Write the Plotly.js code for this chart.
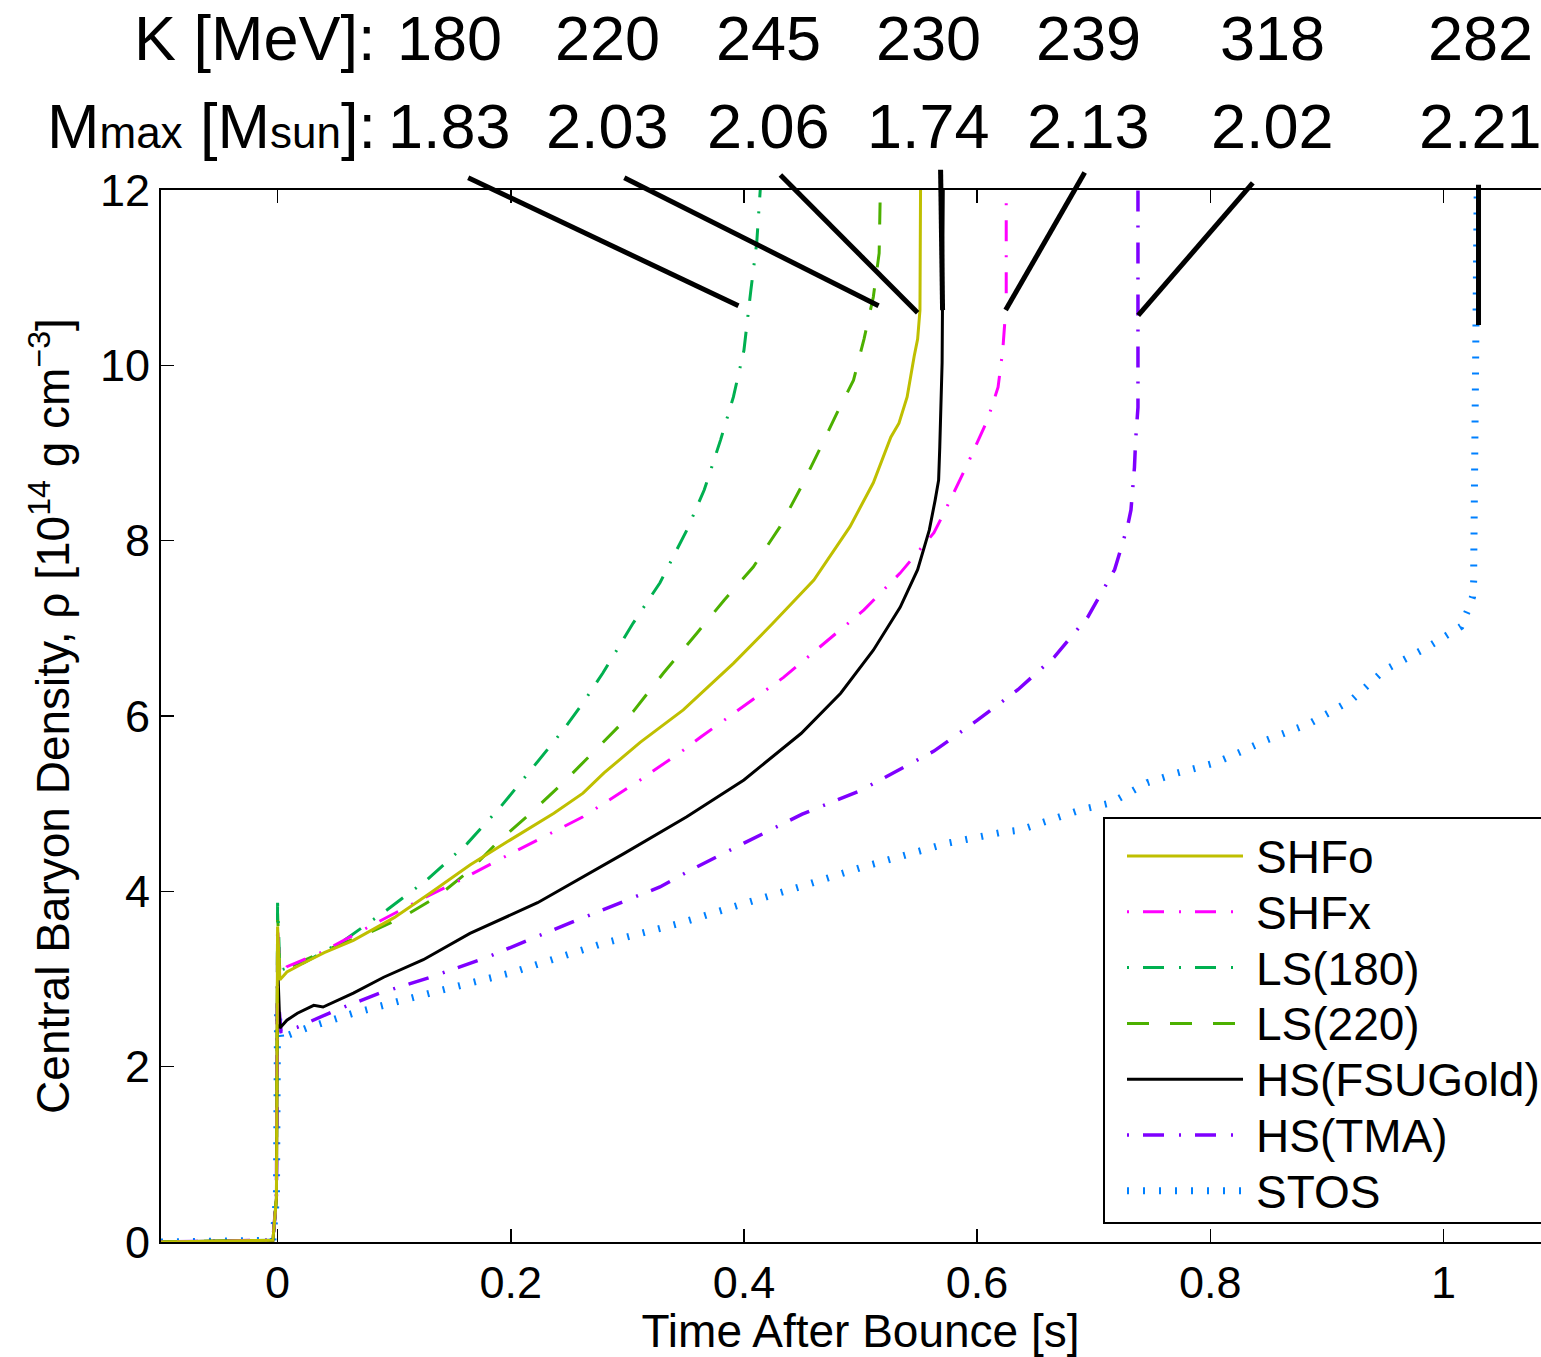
<!DOCTYPE html>
<html>
<head>
<meta charset="utf-8">
<script src="https://cdn.plot.ly/plotly-3.0.1.min.js"></script>
<style>
html, body { margin: 0; padding: 0; overflow: hidden; background: #fff; }
#chart { width: 1562px; height: 1357px; }
</style>
</head>
<body>
<div id="chart"></div>
<script>
// ---------------- data ----------------
const seriesNames = ['SHFo', 'SHFx', 'LS(180)', 'LS(220)', 'HS(FSUGold)', 'HS(TMA)', 'STOS'];

const tSHFo = [-0.1, -0.004, -0.001, 0, 0.002, 0.008, 0.022, 0.04, 0.065, 0.1, 0.131, 0.165, 0.2, 0.237, 0.262, 0.28, 0.311, 0.348, 0.391, 0.425, 0.46, 0.491, 0.511, 0.526, 0.533, 0.54, 0.546, 0.549, 0.551, 0.5515];
const rSHFo = [0, 0.02, 0.5, 3.6, 2.99, 3.08, 3.18, 3.3, 3.44, 3.7, 3.98, 4.3, 4.59, 4.89, 5.12, 5.35, 5.7, 6.07, 6.6, 7.06, 7.55, 8.16, 8.66, 9.18, 9.34, 9.64, 10.1, 10.3, 10.63, 12.0];

const tSHFx = [-0.1, -0.004, -0.001, 0, 0.002, 0.008, 0.037, 0.079, 0.122, 0.157, 0.2, 0.262, 0.311, 0.348, 0.363, 0.434, 0.503, 0.534, 0.563, 0.571, 0.592, 0.609, 0.618, 0.622, 0.625, 0.625];
const rSHFx = [0, 0.02, 0.5, 3.6, 3.05, 3.14, 3.3, 3.6, 3.9, 4.13, 4.43, 4.85, 5.27, 5.61, 5.76, 6.44, 7.21, 7.63, 8.09, 8.3, 8.88, 9.38, 9.75, 10.17, 10.71, 12.0];

const tLS180 = [-0.1, -0.004, -0.001, 0, 0.002, 0.022, 0.057, 0.094, 0.128, 0.163, 0.191, 0.217, 0.245, 0.262, 0.279, 0.305, 0.328, 0.351, 0.366, 0.38, 0.391, 0.4, 0.406, 0.411, 0.414];
const rLS180 = [0, 0.02, 0.5, 3.87, 3.1, 3.18, 3.44, 3.79, 4.13, 4.55, 4.96, 5.38, 5.84, 6.15, 6.49, 7.06, 7.52, 8.12, 8.58, 9.15, 9.64, 10.17, 10.86, 11.4, 12.0];

const tLS220 = [-0.1, -0.004, -0.001, 0, 0.002, 0.011, 0.042, 0.077, 0.108, 0.137, 0.165, 0.188, 0.217, 0.245, 0.277, 0.305, 0.331, 0.36, 0.383, 0.408, 0.431, 0.449, 0.466, 0.48, 0.494, 0.503, 0.511, 0.516, 0.517];
const rLS220 = [0, 0.02, 0.5, 3.75, 3.05, 3.14, 3.33, 3.52, 3.71, 3.94, 4.24, 4.55, 4.89, 5.24, 5.67, 6.05, 6.49, 6.95, 7.32, 7.7, 8.16, 8.61, 9.07, 9.46, 9.83, 10.3, 10.78, 11.28, 12.0];

const tFSU = [-0.1, -0.004, -0.001, 0, 0.002, 0.008, 0.017, 0.031, 0.039, 0.065, 0.091, 0.125, 0.165, 0.223, 0.297, 0.351, 0.4, 0.449, 0.483, 0.511, 0.534, 0.549, 0.559, 0.564, 0.567, 0.568, 0.57, 0.571];
const rFSU = [0, 0.02, 0.5, 3.18, 2.44, 2.53, 2.61, 2.7, 2.68, 2.84, 3.02, 3.22, 3.52, 3.87, 4.43, 4.85, 5.27, 5.8, 6.26, 6.75, 7.24, 7.67, 8.12, 8.46, 8.69, 9.07, 10.03, 12.0];

const tTMA = [-0.1, -0.004, -0.001, 0, 0.003, 0.017, 0.051, 0.088, 0.131, 0.18, 0.251, 0.328, 0.354, 0.4, 0.45, 0.5, 0.528, 0.563, 0.6, 0.635, 0.666, 0.695, 0.718, 0.729, 0.732, 0.735, 0.736, 0.738, 0.738];
const rTMA = [0, 0.02, 0.5, 2.85, 2.4, 2.45, 2.65, 2.84, 3.02, 3.25, 3.64, 4.05, 4.24, 4.55, 4.88, 5.15, 5.35, 5.6, 5.95, 6.3, 6.67, 7.13, 7.67, 8.16, 8.35, 8.84, 9.15, 9.52, 12.0];

const tSTOS = [-0.1, -0.004, -0.001, 0, 0.003, 0.005, 0.025, 0.065, 0.131, 0.2, 0.28, 0.346, 0.4, 0.45, 0.5, 0.575, 0.62, 0.637, 0.689, 0.715, 0.746, 0.772, 0.803, 0.826, 0.849, 0.886, 0.921, 0.949, 0.987, 1.015, 1.021, 1.025, 1.026, 1.026, 1.029];
const rSTOS = [0, 0.02, 0.5, 2.65, 2.3, 2.34, 2.44, 2.61, 2.84, 3.07, 3.41, 3.64, 3.86, 4.06, 4.27, 4.55, 4.67, 4.7, 4.93, 5.01, 5.24, 5.35, 5.46, 5.59, 5.73, 5.92, 6.18, 6.52, 6.79, 7.02, 7.21, 7.36, 7.55, 7.72, 12.0];

// top labels: incompressibility and maximum mass per EOS (left to right)
const kMeV = [180, 220, 245, 230, 239, 318, 282];
const mMax = [1.83, 2.03, 2.06, 1.74, 2.13, 2.02, 2.21];
const labelT = [0.1472, 0.2828, 0.421, 0.5584, 0.6957, 0.8536, 1.0322];

// connector lines from labels to curve ends
const connTopT = [0.1635, 0.2974, 0.4313, 0.5687, 0.6923, 0.8365, 1.0301];
const connTopRho = [12.14, 12.14, 12.17, 12.23, 12.2, 12.08, 12.06];
const connBotT = [0.3953, 0.5155, 0.549, 0.5704, 0.6245, 0.7382, 1.0301];
const connBotRho = [10.68, 10.68, 10.6, 10.63, 10.63, 10.57, 10.46];

const xTicks = [0, 0.2, 0.4, 0.6, 0.8, 1];
const yTicks = [0, 2, 4, 6, 8, 10, 12];

// ---------------- styles ----------------
const FONT = '"Liberation Sans", Arial, Helvetica, sans-serif';
const xRange = [-0.1, 1.1];
const yRange = [0, 12];
const dashDot = '2px,14px,21px,15px';
const styles = [
  {color: '#BFBF00', width: 3, dash: 'solid'},
  {color: '#FF00FF', width: 3, dash: dashDot},
  {color: '#00B050', width: 3, dash: dashDot},
  {color: '#4CB000', width: 3, dash: '22px,21px'},
  {color: '#000000', width: 3, dash: 'solid'},
  {color: '#7F00FF', width: 3.5, dash: dashDot},
  {color: '#0080FF', width: 7, dash: '2px,14px'}
];
const xs = [tSHFo, tSHFx, tLS180, tLS220, tFSU, tTMA, tSTOS];
const ys = [rSHFo, rSHFx, rLS180, rLS220, rFSU, rTMA, rSTOS];

// draw order: STOS first so that others lie on top like reference
const order = [6, 5, 4, 3, 2, 1, 0];
const traces = order.map(i => ({
  type: 'scatter', mode: 'lines', name: seriesNames[i],
  x: xs[i], y: ys[i], showlegend: false, hoverinfo: 'skip',
  line: {color: styles[i].color, width: styles[i].width, dash: styles[i].dash, simplify: false}
}));

const yPaper = v => (v - yRange[0]) / (yRange[1] - yRange[0]);

const shapes = [];
const annotations = [];

// connectors
for (let i = 0; i < connTopT.length; i++) {
  shapes.push({
    type: 'line', xref: 'x', yref: 'paper',
    x0: connTopT[i], y0: yPaper(connTopRho[i]),
    x1: connBotT[i], y1: yPaper(connBotRho[i]),
    line: {color: '#000', width: 5}
  });
}

// top labels
const row1Y = 1.1445, row2Y = 1.0609;
annotations.push({xref: 'paper', yref: 'paper', x: 0.1551, y: row1Y, xanchor: 'right', yanchor: 'middle',
  text: 'K [MeV]:', showarrow: false, font: {family: FONT, size: 63, color: '#000'}});
annotations.push({xref: 'paper', yref: 'paper', x: 0.1551, y: row2Y, xanchor: 'right', yanchor: 'middle',
  text: 'M<span style="font-size:44px">max</span> [M<span style="font-size:44px">sun</span>]:', showarrow: false,
  font: {family: FONT, size: 63, color: '#000'}});
for (let i = 0; i < kMeV.length; i++) {
  annotations.push({xref: 'x', yref: 'paper', x: labelT[i], y: row1Y, xanchor: 'center', yanchor: 'middle',
    text: String(kMeV[i]), showarrow: false, font: {family: FONT, size: 63, color: '#000'}});
  annotations.push({xref: 'x', yref: 'paper', x: labelT[i], y: row2Y, xanchor: 'center', yanchor: 'middle',
    text: mMax[i].toFixed(2), showarrow: false, font: {family: FONT, size: 63, color: '#000'}});
}

// legend (custom, drawn with shapes + annotations)
const L = 161, PW = 1399, B = 1242, PH = 1052;
const px2x = p => (p - L) / PW;
const py2y = p => (B - p) / PH;
shapes.push({type: 'rect', xref: 'paper', yref: 'paper',
  x0: px2x(1104), x1: 1.0, y0: py2y(1223), y1: py2y(818),
  fillcolor: '#fff', line: {color: '#000', width: 2}});
for (let i = 0; i < seriesNames.length; i++) {
  const rowPy = 856 + 55.8 * i;
  shapes.push({type: 'line', xref: 'paper', yref: 'paper',
    x0: px2x(1127), x1: px2x(1243), y0: py2y(rowPy), y1: py2y(rowPy),
    line: {color: styles[i].color, width: styles[i].width, dash: styles[i].dash}});
  annotations.push({xref: 'paper', yref: 'paper', x: px2x(1254), y: py2y(rowPy + 1),
    xanchor: 'left', yanchor: 'middle', text: seriesNames[i], showarrow: false,
    font: {family: FONT, size: 46, color: '#000'}});
}

const layout = {
  width: 1562, height: 1357,
  margin: {l: 161, r: 2, t: 190, b: 115},
  paper_bgcolor: '#fff', plot_bgcolor: '#fff',
  font: {family: FONT, color: '#000'},
  showlegend: false,
  xaxis: {
    range: xRange, tickvals: xTicks, ticktext: xTicks.map(String),
    ticks: 'inside', ticklen: 13, tickwidth: 1.5, tickcolor: '#000',
    showline: true, linewidth: 2, linecolor: '#000', mirror: 'ticks',
    showgrid: false, zeroline: false,
    tickfont: {family: FONT, size: 45, color: '#000'},
    title: {text: 'Time After Bounce [s]', font: {family: FONT, size: 46, color: '#000'}, standoff: 6}
  },
  yaxis: {
    range: yRange, tickvals: yTicks, ticktext: yTicks.map(String),
    ticks: 'inside', ticklen: 13, tickwidth: 1.5, tickcolor: '#000',
    showline: true, linewidth: 2, linecolor: '#000', mirror: false,
    showgrid: false, zeroline: false,
    tickfont: {family: FONT, size: 45, color: '#000'},
    title: {text: 'Central Baryon Density, ρ [10<sup>14</sup> g cm<sup>−3</sup>]', font: {family: FONT, size: 46, color: '#000'}, standoff: 16}
  },
  shapes: shapes,
  annotations: annotations
};

Plotly.newPlot('chart', traces, layout, {staticPlot: true, displayModeBar: false});
</script>
</body>
</html>
